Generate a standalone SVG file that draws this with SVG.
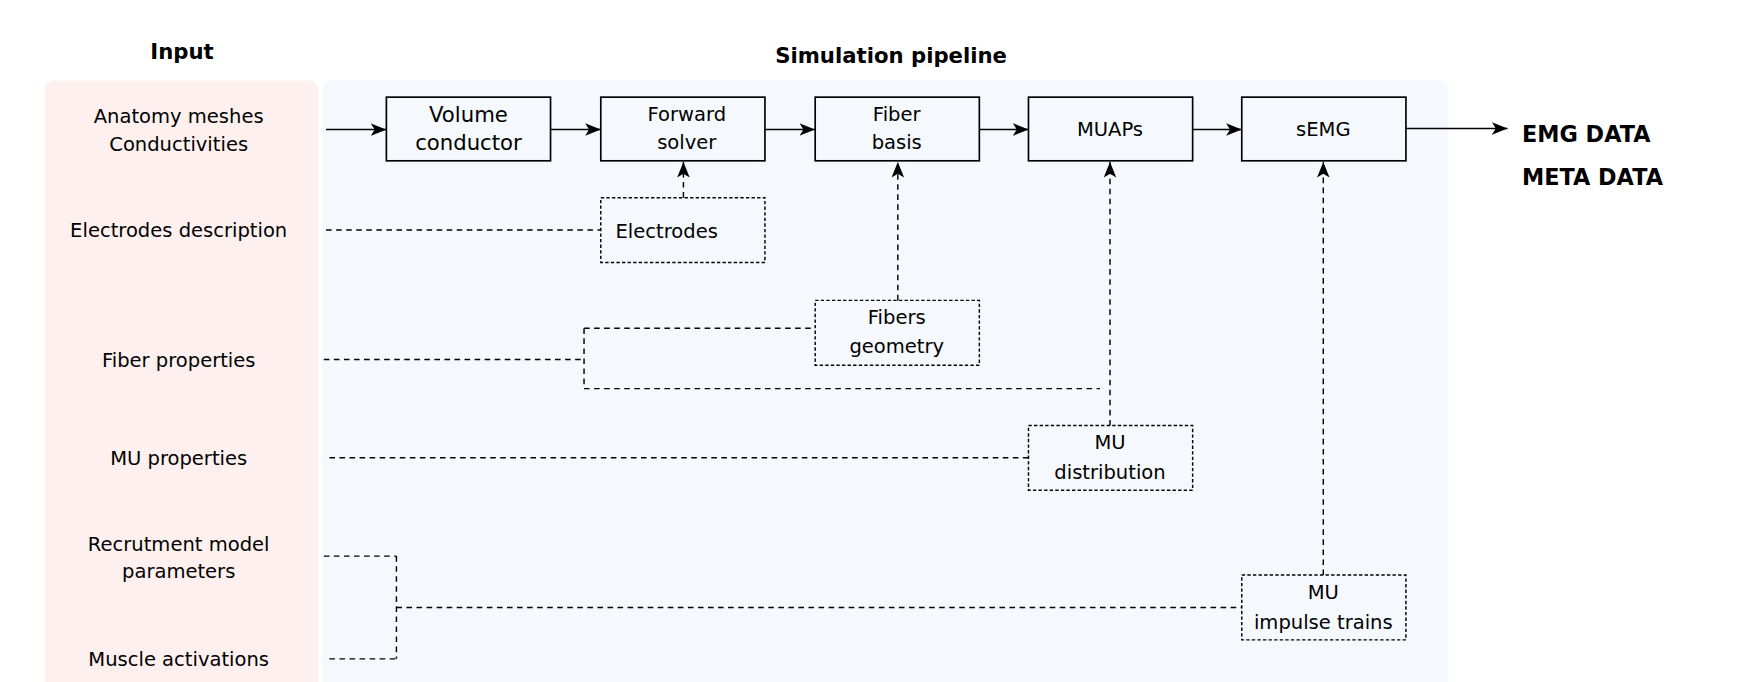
<svg xmlns="http://www.w3.org/2000/svg" width="1751" height="682" viewBox="0 0 1751 682">
<style>
text{font-family:"DejaVu Sans",sans-serif;fill:#000}
.lbl{font-size:17.5px;text-anchor:middle}
.in{font-size:17.5px;text-anchor:middle}
.h{font-size:19px;font-weight:bold;text-anchor:middle}
.out{font-size:20px;font-weight:bold}
.box{fill:none;stroke:#000;stroke-width:1.5}
.dbox{fill:none;stroke:#000;stroke-width:1.3;stroke-dasharray:3,2}
.s{fill:none;stroke:#000;stroke-width:1.3}
.d{fill:none;stroke:#000;stroke-width:1.3;stroke-dasharray:5,4}
</style>
<defs><marker id="a" viewBox="0 0 10 10" refX="10" refY="5" markerWidth="14" markerHeight="14" markerUnits="userSpaceOnUse" orient="auto"><path d="M0,1 L10,5 L0,9 L2.5,5 Z" fill="#000"/></marker></defs>
<rect width="1751" height="682" fill="#fff"/>
<g transform="scale(1.1167)">
<rect x="40" y="72" width="245" height="560" rx="8" fill="#fdf0ef"/>
<rect x="288" y="72" width="1009" height="560" rx="8" fill="#f5f9fd"/>
<text class="h" x="163" y="53">Input</text>
<text class="h" x="798" y="56">Simulation pipeline</text>
<g id="inputs">
<text class="in" x="160" y="110">Anatomy meshes</text>
<text class="in" x="160" y="135">Conductivities</text>
<text class="in" x="160" y="212">Electrodes description</text>
<text class="in" x="160" y="329">Fiber properties</text>
<text class="in" x="160" y="416">MU properties</text>
<text class="in" x="160" y="493">Recrutment model</text>
<text class="in" x="160" y="518">parameters</text>
<text class="in" x="160" y="596">Muscle activations</text>
</g>
<g id="volume"><rect class="box" x="346" y="87" width="147" height="57"/><text class="lbl" x="419.5" y="109" style="font-size:19px">Volume</text><text class="lbl" x="419.5" y="134" style="font-size:19px">conductor</text></g>
<g id="forward"><rect class="box" x="538" y="87" width="147" height="57"/><text class="lbl" x="615" y="108">Forward</text><text class="lbl" x="615" y="133">solver</text></g>
<g id="fiberbasis"><rect class="box" x="730" y="87" width="147" height="57"/><text class="lbl" x="803" y="108">Fiber</text><text class="lbl" x="803" y="133">basis</text></g>
<g id="muaps"><rect class="box" x="921" y="87" width="147" height="57"/><text class="lbl" x="994" y="122">MUAPs</text></g>
<g id="semg"><rect class="box" x="1112" y="87" width="147" height="57"/><text class="lbl" x="1185" y="122">sEMG</text></g>
<g id="electrodes"><rect class="dbox" x="538" y="177" width="147" height="58"/><text class="lbl" x="597" y="213">Electrodes</text></g>
<g id="fibersgeo"><rect class="dbox" x="730" y="269" width="147" height="58"/><text class="lbl" x="803" y="290">Fibers</text><text class="lbl" x="803" y="316">geometry</text></g>
<g id="mudist"><rect class="dbox" x="921" y="381" width="147" height="58"/><text class="lbl" x="994" y="402">MU</text><text class="lbl" x="994" y="429">distribution</text></g>
<g id="muimp"><rect class="dbox" x="1112" y="515" width="147" height="58"/><text class="lbl" x="1185" y="536">MU</text><text class="lbl" x="1185" y="563">impulse trains</text></g>
<g id="outputs"><text class="out" x="1363" y="127">EMG DATA</text><text class="out" x="1363" y="166">META DATA</text></g>
<g id="connectors">
<path class="s" d="M292,116 H346" marker-end="url(#a)"/>
<path class="s" d="M493,116 H538" marker-end="url(#a)"/>
<path class="s" d="M685,116 H730" marker-end="url(#a)"/>
<path class="s" d="M877,116 H921" marker-end="url(#a)"/>
<path class="s" d="M1068,116 H1112" marker-end="url(#a)"/>
<path class="s" d="M1259,115 H1350" marker-end="url(#a)"/>
<path class="d" d="M292,206 H538"/>
<path class="d" d="M612,177 V145" marker-end="url(#a)"/>
<path class="d" d="M804,269 V145" marker-end="url(#a)"/>
<path class="d" d="M290,322 H523 M523,294 V348 M523,294 H730 M523,348 H985"/>
<path class="d" d="M994,381 V145" marker-end="url(#a)"/>
<path class="d" d="M295,410 H921"/>
<path class="d" d="M290,498 H355 M295,590 H355 M355,498 V590 M355,544 H1112"/>
<path class="d" d="M1185,515 V145" marker-end="url(#a)"/>
</g>
</g>
</svg>
